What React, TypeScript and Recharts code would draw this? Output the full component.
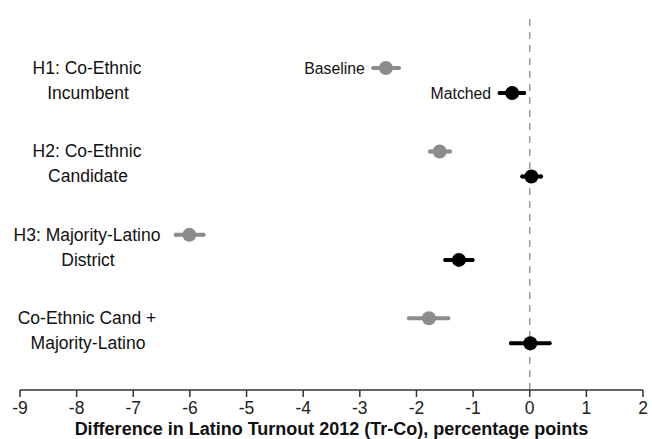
import {
  ScatterChart,
  Scatter,
  XAxis,
  YAxis,
  ReferenceLine,
  ErrorBar,
  LabelList,
} from "recharts";

// Row positions (top to bottom) and their two-line labels
const ROW_POS = [4, 3, 2, 1];
const ROW_LABELS = [
  ["H1: Co-Ethnic", "Incumbent"],
  ["H2: Co-Ethnic", "Candidate"],
  ["H3: Majority-Latino", "District"],
  ["Co-Ethnic Cand +", "Majority-Latino"],
];

const X_TICKS = [-9, -8, -7, -6, -5, -4, -3, -2, -1, 0, 1, 2];

// Baseline estimates with confidence intervals
const BASE_EST = [-2.54, -1.59, -6.01, -1.78];
const BASE_LO = [-2.76, -1.76, -6.25, -2.13];
const BASE_HI = [-2.31, -1.41, -5.76, -1.44];

// Matched estimates with confidence intervals
const MATCH_EST = [-0.31, 0.03, -1.25, 0.01];
const MATCH_LO = [-0.53, -0.13, -1.49, -0.33];
const MATCH_HI = [-0.1, 0.2, -1.01, 0.35];

const SERIES_TAGS = ["Baseline", "Matched"];

const FONT = "'Liberation Sans', Arial, sans-serif";
const GRAY = "#8c8c8c";
const BLACK = "#000000";

const build = (est: number[], lo: number[], hi: number[], shift: number, tag: string) =>
  est.map((v, i) => ({
    x: v,
    y: ROW_POS[i] + shift,
    err: [v - lo[i], hi[i] - v],
    tag: i === 0 ? tag : "",
  }));

const baseline = build(BASE_EST, BASE_LO, BASE_HI, 0.15, SERIES_TAGS[0]);
const matched = build(MATCH_EST, MATCH_LO, MATCH_HI, -0.15, SERIES_TAGS[1]);

const RowTick = (props: any) => {
  const { y, payload } = props;
  const idx = ROW_POS.indexOf(payload.value);
  if (idx < 0) return null;
  const [l1, l2] = ROW_LABELS[idx];
  return (
    <g>
      <text x={87} y={y - 12.5} textAnchor="middle" dominantBaseline="central"
        fontSize={17.5} fontFamily={FONT} fill="#111">{l1}</text>
      <text x={88} y={y + 12.5} textAnchor="middle" dominantBaseline="central"
        fontSize={17.5} fontFamily={FONT} fill="#111">{l2}</text>
    </g>
  );
};

const dot = (color: string) => (props: any) =>
  <circle cx={props.cx} cy={props.cy} r={7} fill={color} />;

const TagLabel = (props: any) => {
  const { x, y, width, height, value } = props;
  if (!value) return null;
  const cx = x + (width || 0) / 2;
  const cy = y + (height || 0) / 2;
  return (
    <text x={cx - 21} y={cy} textAnchor="end" dominantBaseline="central"
      fontSize={15.8} fontFamily={FONT} fill="#111">{value}</text>
  );
};

export default function App() {
  return (
    <div style={{ position: "absolute", left: 0, top: 0, background: "#fff" }}>
      <ScatterChart width={652} height={439} margin={{ top: 18, right: 9, left: 19, bottom: 0 }}>
        <XAxis
          type="number"
          dataKey="x"
          domain={[-9, 2]}
          ticks={X_TICKS}
          interval={0}
          height={49}
          tickSize={7}
          tickMargin={5}
          axisLine={{ stroke: "#333", strokeWidth: 1.5 }}
          tickLine={{ stroke: "#333", strokeWidth: 1.5 }}
          tick={{ fontSize: 17.5, fontFamily: FONT, fill: "#222" }}
          label={{
            value: "Difference in Latino Turnout 2012 (Tr-Co), percentage points",
            position: "insideBottom",
            offset: 4,
            style: { fontSize: 18, fontWeight: "bold", fontFamily: FONT, fill: "#111" },
          }}
        />
        <YAxis
          type="number"
          dataKey="y"
          domain={[0.29, 4.75]}
          ticks={ROW_POS}
          width={1}
          axisLine={false}
          tickLine={false}
          tick={<RowTick />}
        />
        <ReferenceLine x={0} stroke="#999" strokeWidth={1.5} strokeDasharray="7 6" />
        <Scatter data={baseline} fill={GRAY} shape={dot(GRAY)} isAnimationActive={false}>
          <ErrorBar dataKey="err" direction="x" width={0} stroke={GRAY} strokeWidth={4}
            strokeLinecap="round" />
          <LabelList dataKey="tag" content={<TagLabel />} />
        </Scatter>
        <Scatter data={matched} fill={BLACK} shape={dot(BLACK)} isAnimationActive={false}>
          <ErrorBar dataKey="err" direction="x" width={0} stroke={BLACK} strokeWidth={4}
            strokeLinecap="round" />
          <LabelList dataKey="tag" content={<TagLabel />} />
        </Scatter>
      </ScatterChart>
    </div>
  );
}
